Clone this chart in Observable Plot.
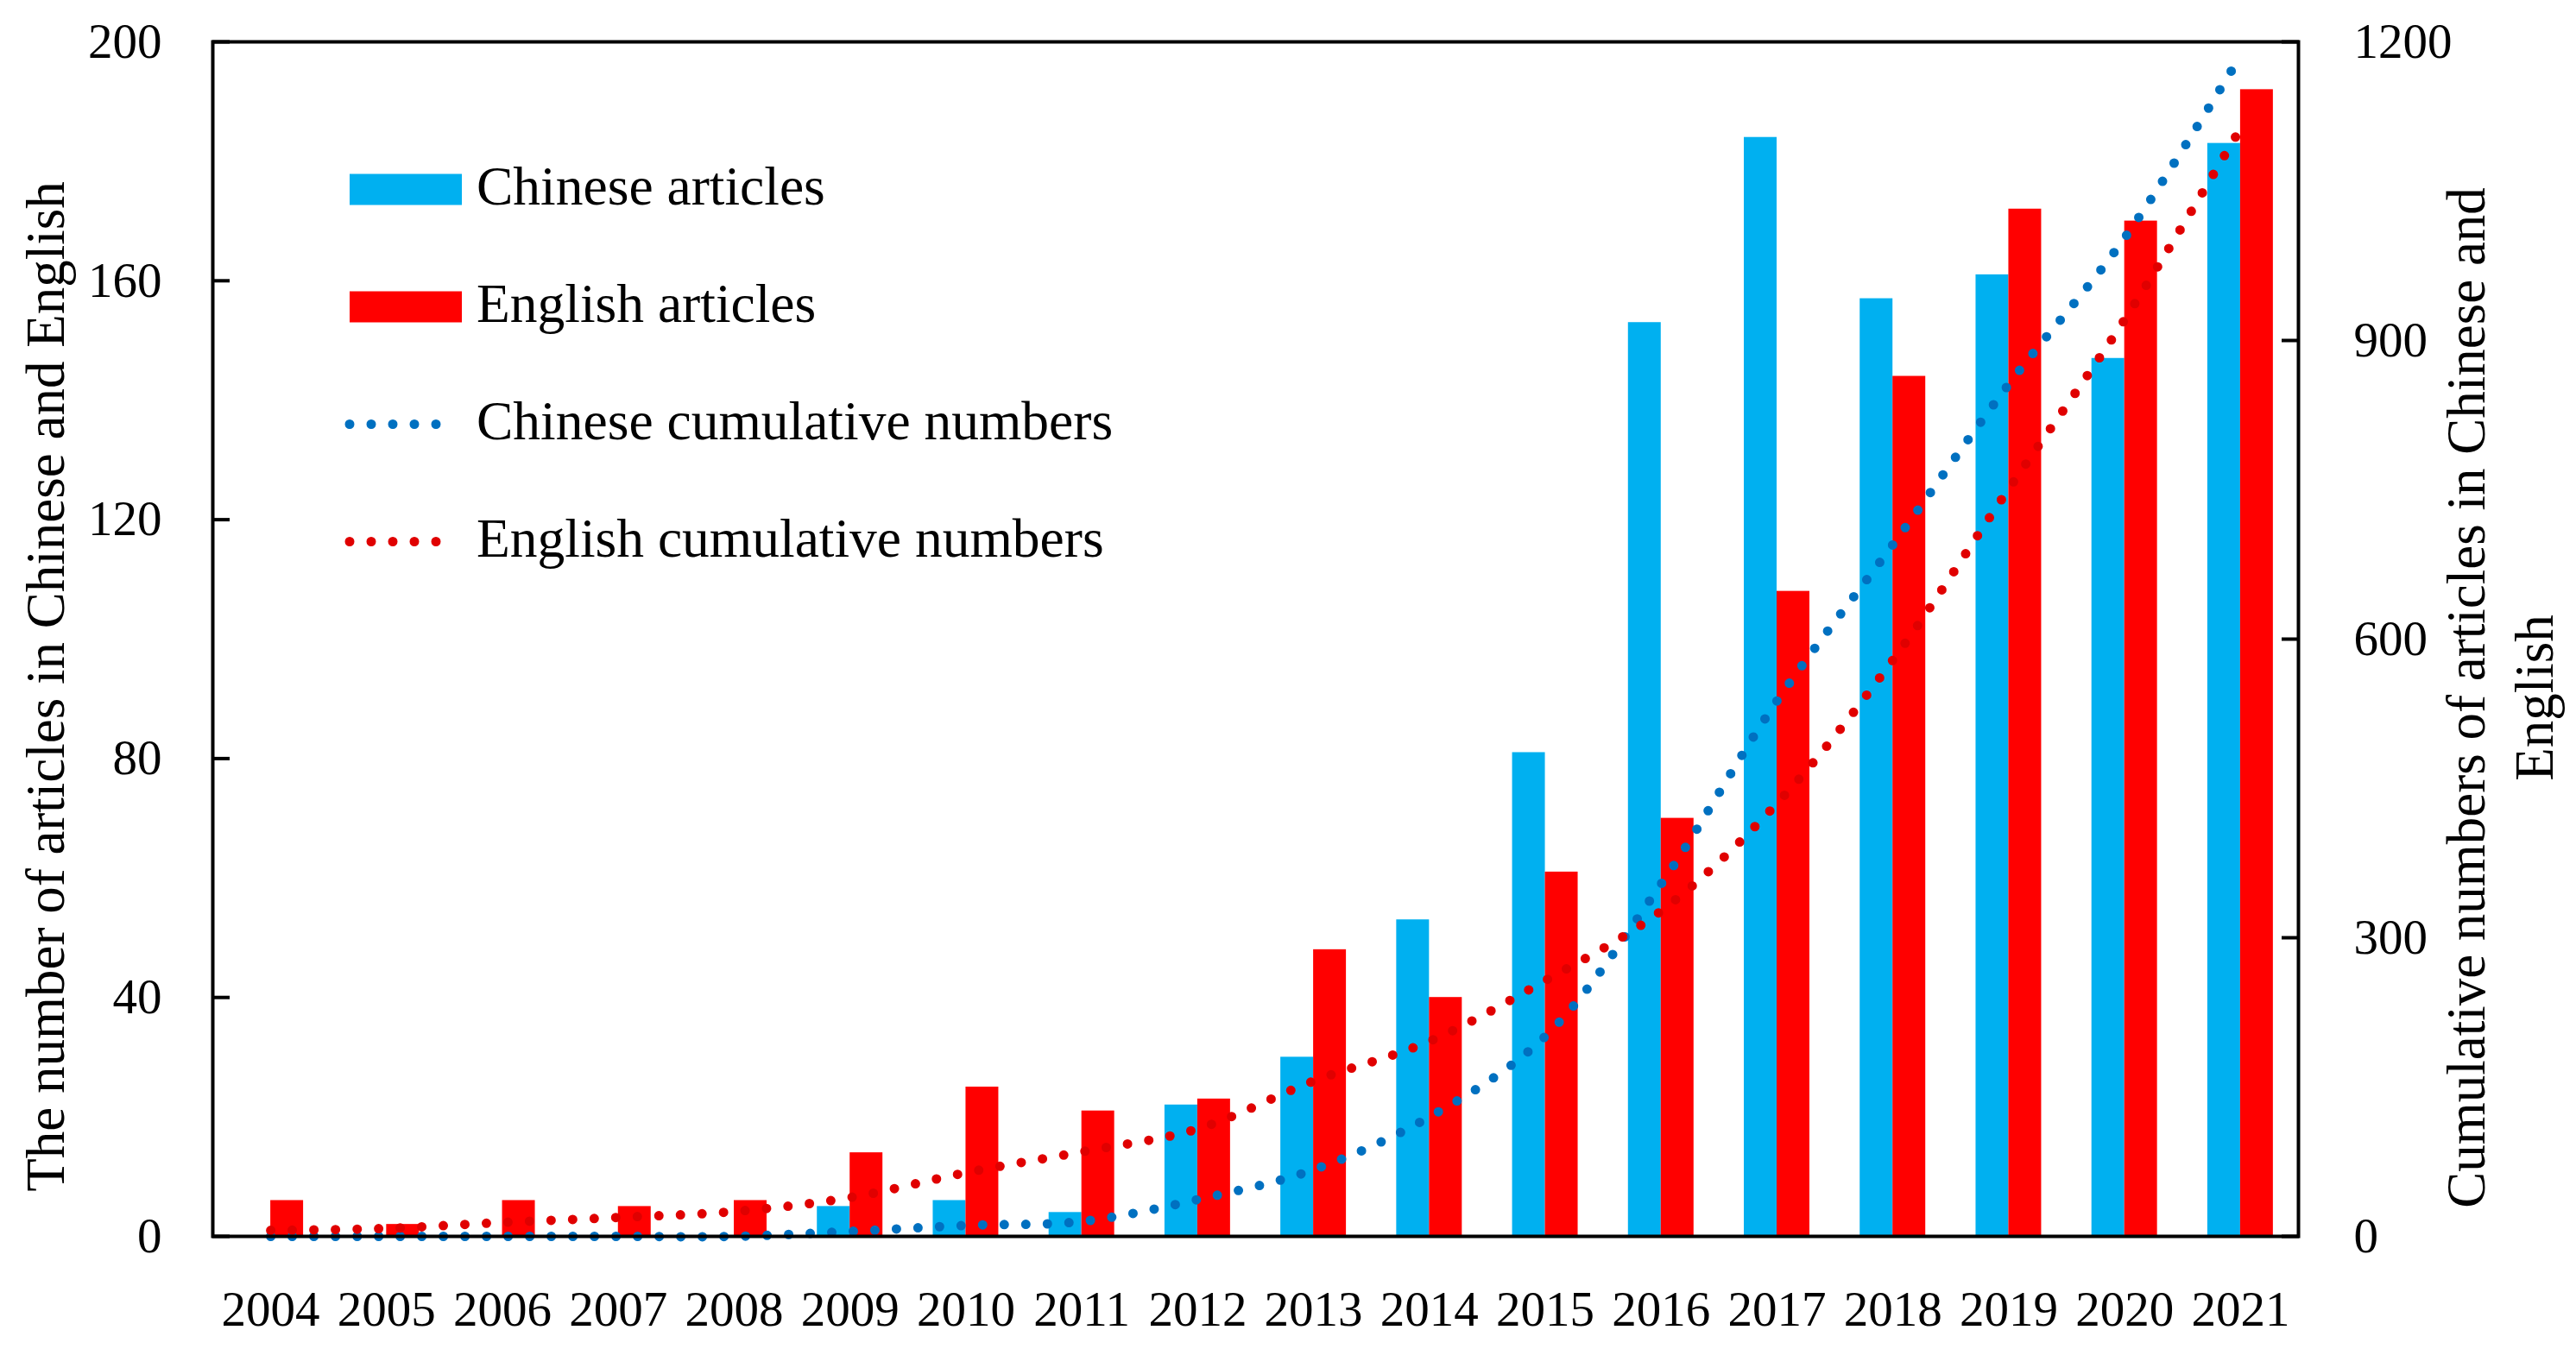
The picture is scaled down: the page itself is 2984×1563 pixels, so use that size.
<!DOCTYPE html>
<html><head><meta charset="utf-8">
<script src="https://cdn.jsdelivr.net/npm/d3@7"></script>
<script src="https://cdn.jsdelivr.net/npm/@observablehq/plot@0.6"></script>
<style>
html,body{margin:0;padding:0;background:#fff;}
#wrap{position:relative;width:2984px;height:1563px;overflow:hidden;}
#legend{position:absolute;left:0;top:0;}
</style></head><body>
<div id="wrap"><div id="chart"></div><svg id="legend" width="1400" height="700"></svg></div>
<script>
const years = [2004,2005,2006,2007,2008,2009,2010,2011,2012,2013,2014,2015,2016,2017,2018,2019,2020,2021];
const chinese = [0,0,0,0,0,5,6,4,22,30,53,81,153,184,157,161,147,183];
const english = [6,2,6,5,6,14,25,21,23,48,40,61,70,108,144,172,170,192];
const chineseCum = [0,0,0,0,0,5,11,15,37,67,120,201,354,538,695,856,1003,1186];
const englishCum = [6,8,14,19,25,39,64,85,108,156,196,257,327,435,579,751,921,1113];
const leftTicks = [0,40,80,120,160,200];
const rightTicks = [0,300,600,900,1200];
const legendItems = [
  {label:"Chinese articles", kind:"bar", color:"#00B0F0"},
  {label:"English articles", kind:"bar", color:"#FF0000"},
  {label:"Chinese cumulative numbers", kind:"dots", color:"#0070C0"},
  {label:"English cumulative numbers", kind:"dots", color:"#E00000"}
];

const FONT = "'Liberation Serif', 'Times New Roman', serif";
const yRight = d3.scaleLinear().domain([0,1200]).range([0,200]);
const barW = 0.283;
const cnRows = years.map((yr,i)=>({year:yr, value:chinese[i], cum:chineseCum[i]}));
const enRows = years.map((yr,i)=>({year:yr, value:english[i], cum:englishCum[i]}));

const chart = Plot.plot({
  width:2984, height:1563,
  marginLeft:246, marginRight:322, marginTop:48, marginBottom:131,
  x:{domain:[2003.5,2021.5]},
  y:{domain:[0,200]},
  style:{fontFamily:FONT, fontSize:"57px", color:"#000", background:"#fff"},
  marks:[
    Plot.rectY(cnRows, {x1:d=>d.year-barW, x2:d=>d.year, y1:0, y2:"value", fill:"#00B0F0"}),
    Plot.rectY(enRows, {x1:d=>d.year, x2:d=>d.year+barW, y1:0, y2:"value", fill:"#FF0000"}),
    Plot.line(cnRows, {x:"year", y:d=>yRight(d.cum), stroke:"#0070C0", strokeWidth:11, strokeDasharray:"0 25", strokeLinecap:"round", curve:"catmull-rom"}),
    Plot.line(enRows, {x:"year", y:d=>yRight(d.cum), stroke:"#E00000", strokeWidth:11, strokeDasharray:"0 25", strokeLinecap:"round", curve:"catmull-rom"}),
    Plot.frame({stroke:"#000", strokeWidth:4}),
    Plot.axisY({anchor:"left", ticks:leftTicks, tickSize:-20, tickPadding:79, strokeWidth:4, label:null, fontSize:57}),
    Plot.axisY({anchor:"right", ticks:rightTicks.map(v=>yRight(v)), tickFormat:d=>String(Math.round(yRight.invert(d))), tickSize:-20, tickPadding:84, strokeWidth:4, label:null, fontSize:57}),
    Plot.axisX({ticks:years, tickFormat:d=>String(d), tickSize:0, tickPadding:63, label:null, fontSize:57}),
    Plot.text(["The number of articles in Chinese and English"], {text:d=>d, frameAnchor:"left", dx:-193, dy:55, rotate:-90, fontSize:63, textAnchor:"middle", lineAnchor:"middle", fill:"#000"}),
    Plot.text(["Cumulative numbers of articles in Chinese and\nEnglish"], {text:d=>d, frameAnchor:"right", dx:230, dy:68, rotate:-90, fontSize:63, lineHeight:1.25, textAnchor:"middle", lineAnchor:"middle", fill:"#000"})
  ]
});
document.getElementById("chart").appendChild(chart);

// Legend (inside the plot area, top-left)
const lg = d3.select("#legend");
legendItems.forEach((it,i)=>{
  const cy = 219.5 + i*136;
  if (it.kind === "bar") {
    lg.append("rect").attr("x",405).attr("y",cy-18).attr("width",130).attr("height",36).attr("fill",it.color);
  } else {
    lg.append("line").attr("x1",405).attr("x2",530).attr("y1",cy).attr("y2",cy)
      .attr("stroke",it.color).attr("stroke-width",11).attr("stroke-dasharray","0 25").attr("stroke-linecap","round");
  }
  lg.append("text").attr("x",552).attr("y",cy+17).attr("font-family",FONT).attr("font-size",63.5).attr("fill","#000").text(it.label);
});
</script>
</body></html>
